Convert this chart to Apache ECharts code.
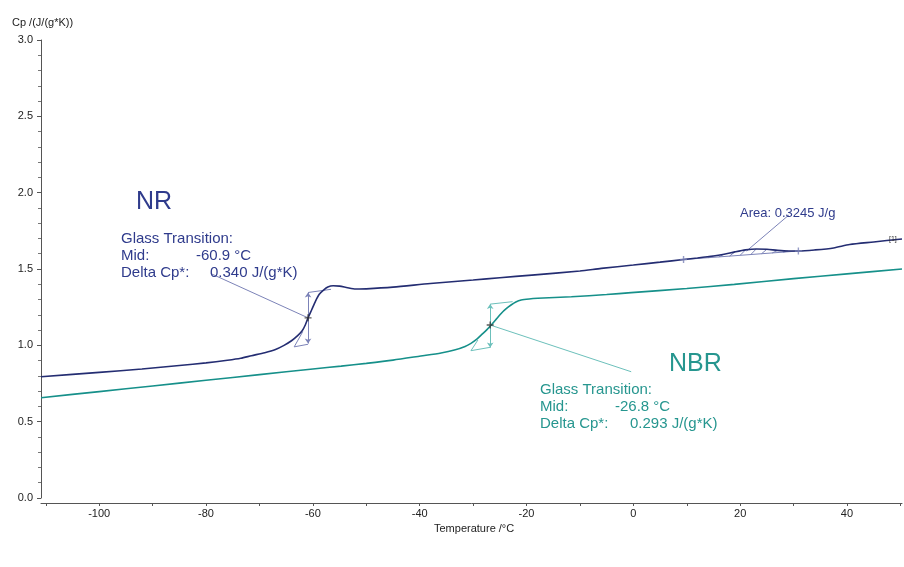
<!DOCTYPE html>
<html><head><meta charset="utf-8">
<script src="https://cdn.jsdelivr.net/npm/echarts@6/dist/echarts.min.js"></script>
<style>html,body{margin:0;padding:0;background:#fff}#c{width:904px;height:567px}</style>
</head><body><div id="c"></div>
<script>
// ---- data (Temperature °C, Cp J/(g*K)) ----
const nrCurve = [[-110.9,0.794],[-100,0.823],[-92,0.845],[-85,0.868],[-80,0.885],[-76,0.902],[-73.5,0.915],[-71.5,0.932],[-69,0.952],[-67,0.973],[-65.4,1.000],[-64,1.030],[-62.8,1.065],[-62,1.095],[-61.4,1.135],[-60.9,1.18],[-60.2,1.235],[-59.5,1.29],[-58.8,1.335],[-58,1.362],[-57.2,1.382],[-56.2,1.390],[-55,1.388],[-53.5,1.377],[-52,1.369],[-50,1.370],[-45,1.381],[-38,1.405],[-30,1.428],[-25,1.443],[-19,1.460],[-10,1.487],[-6,1.504],[0,1.526],[5,1.545],[9.4,1.562],[12,1.572],[15,1.585],[17,1.597],[19,1.612],[21,1.625],[23,1.631],[25,1.629],[27,1.622],[29,1.618],[31,1.618],[34,1.625],[37.5,1.638],[40.5,1.660],[45,1.677],[50.3,1.697]];
const nbrCurve = [[-110.9,0.657],[-100,0.697],[-90,0.734],[-80,0.771],[-70,0.808],[-60,0.845],[-54.7,0.864],[-50,0.882],[-45,0.903],[-39.8,0.930],[-36,0.950],[-33.5,0.969],[-31.5,0.993],[-30.4,1.013],[-29.3,1.040],[-28.5,1.067],[-27.5,1.100],[-26.6,1.133],[-25.7,1.170],[-24.75,1.209],[-23.8,1.240],[-22.9,1.264],[-22,1.284],[-21,1.297],[-19.5,1.304],[-17.9,1.308],[-11.6,1.318],[-5,1.333],[-0.4,1.345],[10,1.372],[18.9,1.399],[30,1.437],[40,1.468],[50.3,1.500]];

// glass transition constructions
const nrMid = [-60.9, 1.18];
const nrArrow = [[-60.9,1.012],[-60.9,1.346]];
const nrLower = [[-63.5,0.990],[-60.9,1.007]];
const nrTangent = [[-63.5,0.990],[-61.9,1.089]];
const nrUpper = [[-60.9,1.346],[-56.6,1.367]];
const nrLeader = [[-79.1,1.470],[-60.9,1.18]];

const nbrMid = [-26.8, 1.133];
const nbrArrow = [[-26.8,0.985],[-26.8,1.270]];
const nbrLower = [[-30.4,0.965],[-26.8,0.987]];
const nbrTangent = [[-30.4,0.965],[-29.1,1.035]];
const nbrUpper = [[-26.8,1.270],[-22.6,1.286]];
const nbrLeader = [[-26.8,1.133],[-0.4,0.827]];

// peak area
const areaBase = [[9.4,1.562],[30.9,1.618]];
const areaHatch = [[[14,1.574],[15,1.585]],[[16,1.579],[17,1.597]],[[18,1.584],[19,1.612]],[[20,1.590],[21,1.625]],[[22,1.595],[23,1.631]],[[24,1.600],[25,1.629]],[[26,1.605],[27,1.622]],[[28,1.610],[29,1.618]]];
const areaLeader = [[29.1,1.853],[21.2,1.618]];

const xTickLabels = [-100,-80,-60,-40,-20,0,20,40];
const xTicks = [-110,-100,-90,-80,-70,-60,-50,-40,-30,-20,-10,0,10,20,30,40,50];

const nrTexts = ['NR','Glass Transition:','Mid:','-60.9 °C','Delta Cp*:','0.340 J/(g*K)'];
const nbrTexts = ['NBR','Glass Transition:','Mid:','-26.8 °C','Delta Cp*:','0.293 J/(g*K)'];
const areaText = 'Area: 0.3245 J/g';
const curveTag = '[1]';

// ---- styles ----
const NR_LINE = '#242d72', NR_LIGHT = '#7c83b8', NR_TEXT = '#2f3b8c';
const NBR_LINE = '#16908a', NBR_LIGHT = '#6cc0bb', NBR_TEXT = '#26968f';
const FONT = '"Liberation Sans", Arial, sans-serif';

const chart = echarts.init(document.getElementById('c'));
const plus = 'path://M4,0H6V4H10V6H6V10H4V6H0V4H4Z';

function linesSeries(data, color, width, arrows) {
  return {type:'lines', coordinateSystem:'cartesian2d', silent:true, z:3,
    symbol: arrows ? ['arrow','arrow'] : ['none','none'], symbolSize: 5,
    lineStyle:{color:color, width:width, opacity:1, curveness:0},
    data: data.map(c => ({coords:c}))};
}
function txt(x, y, s, size, color) {
  return {type:'text', left:x, top:y, silent:true, z:10,
    style:{text:s, font: size + 'px ' + FONT, fill:color, textVerticalAlign:'middle'}};
}

const option = {
  animation:false,
  backgroundColor:'#fff',
  grid:{left:41, right:2, top:40, bottom:69, containLabel:false},
  xAxis:{type:'value', min:-110.9, max:50.3, offset:5,
    axisLine:{onZero:false, lineStyle:{color:'#555', width:1}},
    axisTick:{show:true, customValues:xTicks, length:3, inside:false, lineStyle:{color:'#555'}},
    axisLabel:{customValues:xTickLabels, fontSize:11, fontFamily:FONT, color:'#222', margin:5},
    splitLine:{show:false}},
  yAxis:{type:'value', min:0, max:3, interval:0.5,
    axisLine:{show:true, onZero:false, lineStyle:{color:'#555', width:1}},
    axisTick:{show:true, length:4, lineStyle:{color:'#555'}},
    minorTick:{show:true, splitNumber:5, length:3, lineStyle:{color:'#777'}},
    axisLabel:{formatter:v => v.toFixed(1), fontSize:11, fontFamily:FONT, color:'#222', margin:8},
    splitLine:{show:false}},
  series:[
    {type:'line', data:nbrCurve, showSymbol:false, smooth:0.25, z:4,
      lineStyle:{color:NBR_LINE, width:1.6}},
    {type:'line', data:nrCurve, showSymbol:false, smooth:0.25, z:4,
      lineStyle:{color:NR_LINE, width:1.6}},
    linesSeries([nrLower, nrTangent, nrUpper, nrLeader], NR_LIGHT, 1, false),
    linesSeries([nrArrow], NR_LIGHT, 1, true),
    linesSeries([nbrLower, nbrTangent, nbrUpper, nbrLeader], NBR_LIGHT, 1, false),
    linesSeries([nbrArrow], NBR_LIGHT, 1, true),
    linesSeries([areaBase].concat(areaHatch).concat([areaLeader]), NR_LIGHT, 1, false),
    {type:'scatter', symbol:plus, symbolSize:7, silent:true, z:6,
      itemStyle:{color:'#333'}, data:[nrMid, nbrMid]},
    {type:'scatter', symbol:plus, symbolSize:7, silent:true, z:6,
      itemStyle:{color:NR_LIGHT}, data:[areaBase[0], areaBase[1]]}
  ],
  graphic:[
    txt(12, 17, 'Cp /(J/(g*K))', 11, '#222'),
    txt(434, 523, 'Temperature /°C', 11, '#222'),
    txt(136, 190, nrTexts[0], 25, NR_TEXT),
    txt(121, 231, nrTexts[1], 15, NR_TEXT),
    txt(121, 248, nrTexts[2], 15, NR_TEXT),
    txt(196, 248, nrTexts[3], 15, NR_TEXT),
    txt(121, 265, nrTexts[4], 15, NR_TEXT),
    txt(210, 265, nrTexts[5], 15, NR_TEXT),
    txt(669, 352, nbrTexts[0], 25, NBR_TEXT),
    txt(540, 382, nbrTexts[1], 15, NBR_TEXT),
    txt(540, 399, nbrTexts[2], 15, NBR_TEXT),
    txt(615, 399, nbrTexts[3], 15, NBR_TEXT),
    txt(540, 416, nbrTexts[4], 15, NBR_TEXT),
    txt(630, 416, nbrTexts[5], 15, NBR_TEXT),
    txt(740, 207, areaText, 13, NR_TEXT),
    txt(889, 236, curveTag, 7, '#333')
  ]
};
chart.setOption(option);
</script>
</body></html>
